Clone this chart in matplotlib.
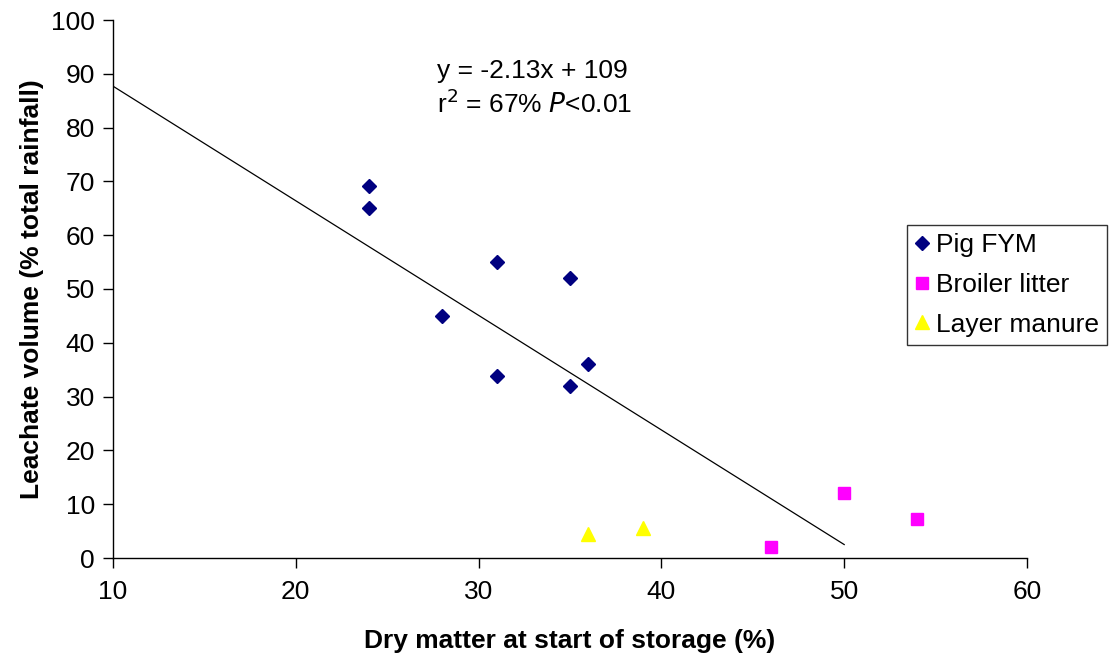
import matplotlib
matplotlib.use("Agg")
import matplotlib.pyplot as plt
import numpy as np

plt.rcParams['font.family'] = ['Liberation Sans', 'DejaVu Sans']

pig_x = [24, 24, 28, 31, 31, 35, 35, 36]
pig_y = [69.1, 65.1, 45.0, 55.0, 33.8, 52.0, 32.0, 36.1]
broiler_x = [50, 46, 54]
broiler_y = [12.1, 2.0, 7.2]
layer_x = [36, 39]
layer_y = [4.5, 5.6]
slope, intercept = -2.13, 109
fit_x = [10, 50]

xticks = [10, 20, 30, 40, 50, 60]
yticks = list(range(0, 101, 10))

fig = plt.figure(figsize=(11.1, 6.62), dpi=100)
ax = fig.add_axes([113/1110, 1 - 558/662, (1027-113)/1110, (558-20)/662])

fx = np.array(fit_x)
ax.plot(fx, slope*fx + intercept, color='black', lw=0.9, zorder=2)
ax.plot(pig_x, pig_y, linestyle='none', marker='D', ms=7, color='#000080', label='Pig FYM', zorder=3)
ax.plot(broiler_x, broiler_y, linestyle='none', marker='s', ms=8.4, color='#FF00FF', label='Broiler litter', zorder=3)
ax.plot(layer_x, layer_y, linestyle='none', marker='^', ms=10, color='#FFFF00', label='Layer manure', zorder=3)

ax.set_xlim(10, 60)
ax.set_ylim(0, 100)
ax.set_xticks(xticks)
ax.set_yticks(yticks)
for s in ['top', 'right']:
    ax.spines[s].set_visible(False)
for s in ['left', 'bottom']:
    ax.spines[s].set_color('black')
    ax.spines[s].set_linewidth(1)
ax.tick_params(axis='both', direction='out', length=7, width=1, labelsize=19, colors='black')
ax.tick_params(axis='x', pad=9)
ax.tick_params(axis='y', pad=6)
ax.set_xlabel('Dry matter at start of storage (%)', fontsize=19, fontweight='bold', labelpad=18)
ax.set_ylabel('Leachate volume (% total rainfall)', fontsize=19, fontweight='bold', labelpad=5)

ax.text(27.7, 89.2, 'y = -2.13x + 109', fontsize=19, va='baseline', ha='left')
ax.text(27.7, 82.7, r'r$^2$ = 67% $\it{P}$<0.01', fontsize=19, va='baseline', ha='left')

leg = fig.legend(loc='upper left', bbox_to_anchor=(907/1110, 1 - 225/662), fontsize=19,
                 frameon=True, fancybox=False, edgecolor='black', handlelength=0.5,
                 handletextpad=0.3, borderpad=0.3, labelspacing=0.6, borderaxespad=0)
leg.get_frame().set_linewidth(1)

fig.savefig('out.png', dpi=100)
